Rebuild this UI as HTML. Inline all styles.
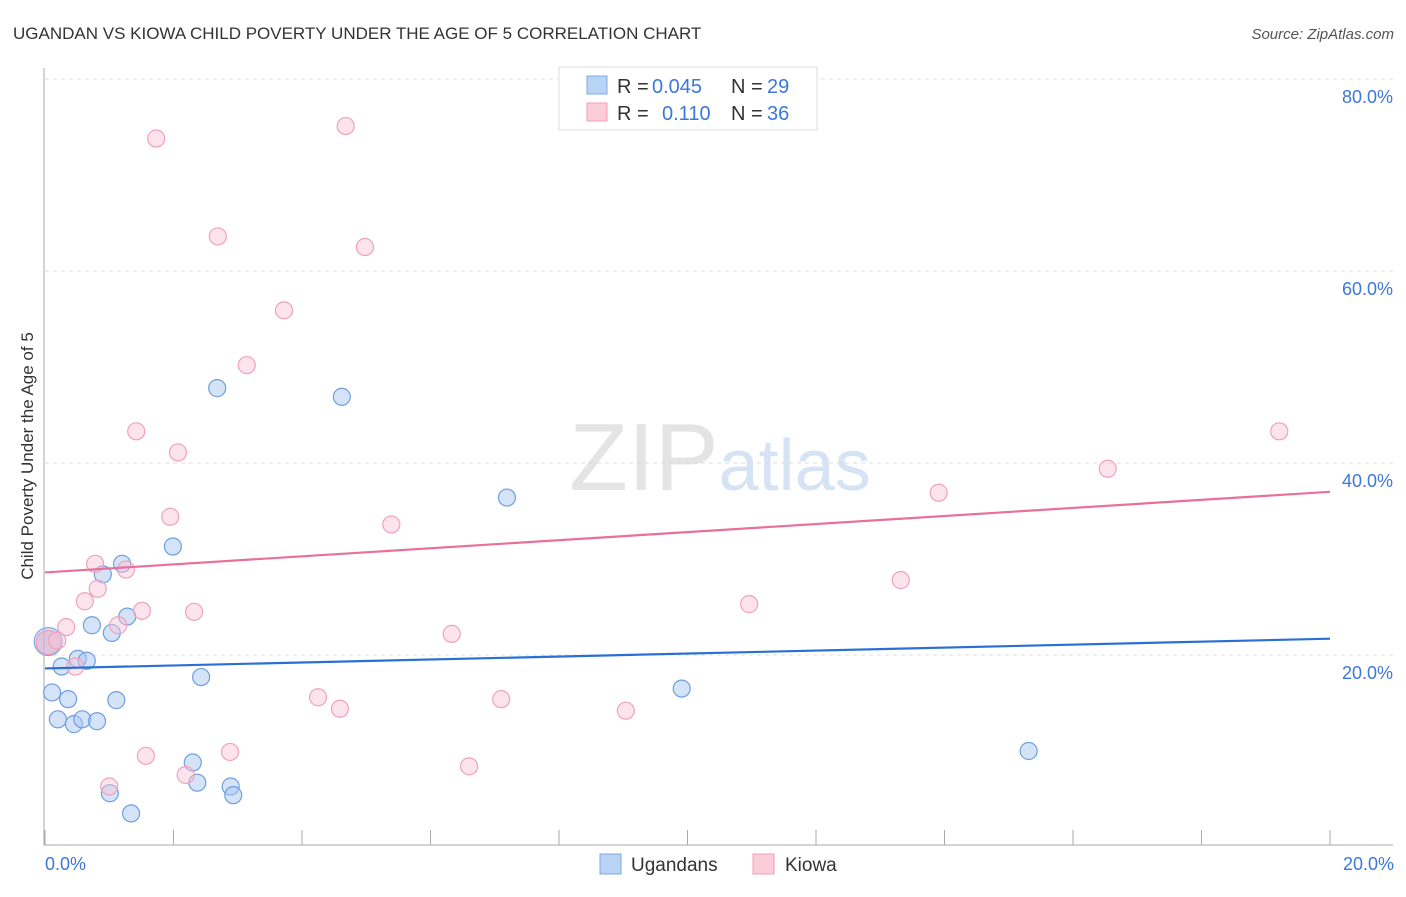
<!DOCTYPE html>
<html><head><meta charset="utf-8"><style>
body{margin:0;background:#fff;font-family:"Liberation Sans",sans-serif}
svg text{font-family:"Liberation Sans",sans-serif}
</style></head><body>
<svg id="chart" width="1406" height="892" xmlns="http://www.w3.org/2000/svg">
<text x="13" y="39" font-size="17" fill="#333">UGANDAN VS KIOWA CHILD POVERTY UNDER THE AGE OF 5 CORRELATION CHART</text>
<text x="1394" y="39" font-size="15" fill="#555" text-anchor="end" font-style="italic">Source: ZipAtlas.com</text>
<text x="720" y="490" font-size="96" text-anchor="middle" fill="#e4e4e4" font-family="Liberation Serif">ZIP<tspan fill="#d6e3f5" font-family="Liberation Sans" font-size="72">atlas</tspan></text>
<g id="grid"></g><g id="axes"></g><g id="points"></g><g id="trends"></g>
<text transform="translate(33,456) rotate(-90)" font-size="17" fill="#333" text-anchor="middle">Child Poverty Under the Age of 5</text>
<g>
<rect x="559" y="67" width="258" height="63" fill="#fff" stroke="#ddd"/>
<rect x="587" y="76" width="20" height="18" fill="#b9d3f5" stroke="#7fa8e6"/>
<rect x="587" y="103" width="20" height="18" fill="#fbcdd9" stroke="#f0a0b8"/>
<text x="617" y="93" font-size="20" fill="#333">R =</text>
<text x="652" y="93" font-size="20" fill="#3b78d8">0.045</text>
<text x="731" y="93" font-size="20" fill="#333">N =</text>
<text x="767" y="93" font-size="20" fill="#3b78d8">29</text>
<text x="617" y="120" font-size="20" fill="#333">R =</text>
<text x="662" y="120" font-size="20" fill="#3b78d8">0.110</text>
<text x="731" y="120" font-size="20" fill="#333">N =</text>
<text x="767" y="120" font-size="20" fill="#3b78d8">36</text>
</g>
<g>
<rect x="600" y="854" width="21" height="20" fill="#b9d3f5" stroke="#7fa8e6"/>
<text x="631" y="871" font-size="19" fill="#333">Ugandans</text>
<rect x="753" y="854" width="21" height="20" fill="#fbcdd9" stroke="#f0a0b8"/>
<text x="785" y="871" font-size="19" fill="#333">Kiowa</text>
</g>
<text x="45" y="870" font-size="18" fill="#3b78d8">0.0%</text>
<text x="1394" y="870" font-size="18" fill="#3b78d8" text-anchor="end">20.0%</text>
</svg>
<script>
const yTicks=[20,40,60,80];
const blueX=[0.11,0.20,0.26,0.36,0.45,0.51,0.58,0.65,0.73,0.81,0.90,1.01,1.04,1.11,1.20,1.28,1.34,1.99,2.30,2.37,2.43,2.68,2.89,2.93,4.62,7.19,9.91,15.31];
const blueY=[16.1,13.3,18.8,15.4,12.8,19.6,13.3,19.4,23.1,13.1,28.4,5.6,22.3,15.3,29.5,24.0,3.5,31.3,8.8,6.7,17.7,47.8,6.3,5.4,46.9,36.4,16.5,10.0];
const pinkX=[1.73,4.68,2.69,4.98,3.72,3.14,1.42,2.07,1.95,5.39,0.78,1.26,0.82,0.62,1.51,2.32,1.14,0.33,0.19,6.33,0.47,4.25,4.59,7.10,9.04,1.57,2.88,6.60,2.19,1.00,10.96,13.32,13.91,16.54,19.21];
const pinkY=[73.8,75.1,63.6,62.5,55.9,50.2,43.3,41.1,34.4,33.6,29.5,28.9,26.9,25.6,24.6,24.5,23.1,22.9,21.5,22.2,18.8,15.6,14.4,15.4,14.2,9.5,9.9,8.4,7.5,6.3,25.3,27.8,36.9,39.4,43.3];
const bigBlue=[0.05,21.4], bigPink=[0.05,21.3];
const blueTrend=[18.6,21.7], pinkTrend=[28.6,37.0];
const X=v=>45+v/20*1285, Y=v=>847-v*9.6;
const NS="http://www.w3.org/2000/svg";
function mk(tag,parent,attrs){const e=document.createElementNS(NS,tag);for(const k in attrs)e.setAttribute(k,attrs[k]);document.getElementById(parent).appendChild(e);return e;}
yTicks.forEach(t=>{
 const l=mk('line','grid',{x1:45,x2:1393,y1:Y(t),y2:Y(t),stroke:'#ddd','stroke-dasharray':'4,4'});
 
 
 const tx=mk('text','grid',{x:1393,y:Y(t)+24,'font-size':18,fill:'#3b78d8','text-anchor':'end'});
 tx.textContent=t.toFixed(1)+'%';
 
 
});
const ax=mk('line','axes',{x1:44,x2:44,y1:68,y2:845,stroke:'#aaa'});


const bx=mk('line','axes',{x1:44,x2:1393,y1:845,y2:845,stroke:'#aaa'});


for(let i=0;i<=10;i++){const t=mk('line','axes',{x1:X(i*2),x2:X(i*2),y1:830,y2:845,stroke:'#aaa'});
 
 }
function dot(x,y,r,fill,stroke,name){const c=mk('circle','points',{cx:X(x),cy:Y(y),r:r,fill:fill,stroke:stroke,'stroke-width':1.2});
 
 }
dot(bigBlue[0],bigBlue[1],14,'rgba(160,195,240,0.5)','#7fa8e6','ugandan-point-large');
dot(bigPink[0],bigPink[1],12,'rgba(240,170,195,0.5)','#eea0b8','kiowa-point-large');
blueX.forEach((x,i)=>dot(x,blueY[i],8.5,'rgba(170,200,240,0.5)','#6f9fe0','ugandan-point'));
pinkX.forEach((x,i)=>dot(x,pinkY[i],8.5,'rgba(250,195,212,0.45)','#f0a2ba','kiowa-point'));
const bt=mk('line','trends',{x1:X(0),x2:X(20),y1:Y(blueTrend[0]),y2:Y(blueTrend[1]),stroke:'#2a6fd6','stroke-width':2.2});


const pt=mk('line','trends',{x1:X(0),x2:X(20),y1:Y(pinkTrend[0]),y2:Y(pinkTrend[1]),stroke:'#e8709a','stroke-width':2.2});


</script>
</body></html>
